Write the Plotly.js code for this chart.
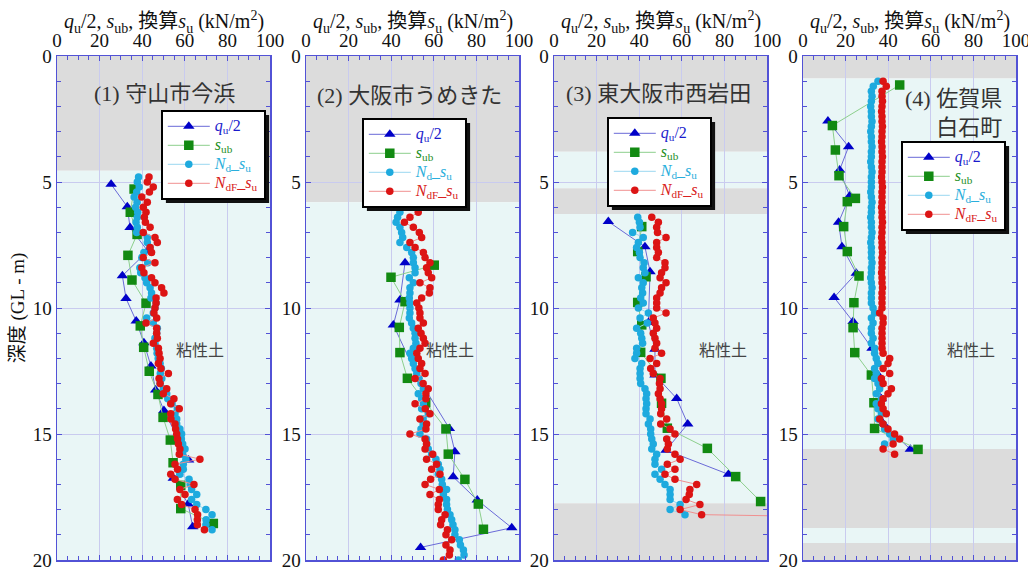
<!DOCTYPE html>
<html><head><meta charset="utf-8">
<script src="https://cdn.plot.ly/plotly-3.0.1.min.js"></script>
<style>html,body{margin:0;padding:0;background:#fff;}#chart{width:1028px;height:568px;}</style>
</head><body><div id="chart"></div>
<script>
// ---------- data (depth in m, strength in kN/m2) ----------
const panelTitles = ['(1) 守山市今浜', '(2) 大阪市うめきた', '(3) 東大阪市西岩田', '(4) 佐賀県<br>白石町'];
const soilLabel = '粘性土';
const xTitle = '<i>q</i><sub>u</sub>/2, <i>s</i><sub>ub</sub>, 換算<i>s</i><sub>u</sub> (kN/m<sup>2</sup>)';
const yTitle = '深度 (GL - m)';
const seriesNames = ['<i>q</i><sub>u</sub>/2', '<i>s</i><sub>ub</sub>', '<i>N</i><sub>d</sub>_<i>s</i><sub>u</sub>', '<i>N</i><sub>dF</sub>_<i>s</i><sub>u</sub>'];

// Panel 1 守山市今浜
const p1_bands = [[0, 4.55, 'gray'], [4.55, 20, 'clay']];
const p1_qu_depth = [5.09, 5.98, 6.81, 7.74, 8.72, 9.62, 10.52, 11.38, 12.3, 13.25, 14.07, 16.03, 16.76, 17.78, 18.68];
const p1_qu = [25.4, 33.0, 34.3, 42.6, 30.7, 32.4, 37.2, 40.8, 44.1, 46.3, 50.2, 61.8, 54.6, 61.6, 63.7];
const p1_sub_depth = [5.28, 6.2, 7.08, 7.91, 8.89, 9.81, 10.71, 11.56, 12.51, 13.43, 14.34, 15.24, 16.14, 17.04, 17.96, 18.55];
const p1_sub = [36.2, 34.4, 37.6, 33.3, 35.2, 41.8, 39.1, 40.7, 43.3, 47.4, 49.8, 53.2, 54.5, 58.1, 58.1, 73.4];
const p1_depth = [4.8,5.0,5.2,5.4,5.6,5.8,6.0,6.2,6.4,6.6,6.8,7.0,7.2,7.4,7.6,7.8,8.0,8.2,8.4,8.6,8.8,9.0,9.2,9.4,9.6,9.8,10.0,10.2,10.4,10.6,10.8,11.0,11.2,11.4,11.6,11.8,12.0,12.2,12.4,12.6,12.8,13.0,13.2,13.4,13.6,13.8,14.0,14.2,14.4,14.6,14.8,15.0,15.2,15.4,15.6,15.8,16.0,16.2,16.4,16.6,16.8,17.0,17.2,17.4,17.6,17.8,18.0,18.2,18.4,18.6,18.8];
const p1_nd = [38.3,37.7,38.6,37.4,36.2,37.6,36.9,37.9,37.7,37.1,37.7,37.4,42.4,42.4,43.7,40.8,39.8,42.6,38.9,39.3,41.3,42.1,43.7,44.4,44.1,46.5,46.0,45.2,42.1,45.2,47.1,46.8,46.0,46.0,46.8,47.0,47.5,48.4,49.0,48.5,49.2,48.4,50.0,51.5,52.0,54.0,56.5,55.4,56.2,56.2,57.7,58.5,58.4,59.0,60.1,59.0,60.5,59.3,59.3,57.7,62.0,62.5,63.2,65.6,63.2,65.6,69.9,72.8,70.0,69.9,72.8];
const p1_ndf = [43.2,42.4,45.2,43.4,39.8,42.4,40.5,41.8,41.0,41.5,43.7,40.5,46.0,47.1,43.7,44.4,40.5,46.0,39.8,40.8,44.4,46.0,49.1,50.2,46.5,46.5,46.0,45.5,46.8,41.8,46.8,46.8,47.1,45.2,47.6,47.9,48.4,47.6,48.8,52.3,47.9,48.4,51.5,49.9,54.9,53.4,57.4,53.4,53.5,55.4,55.7,56.2,56.6,57.0,57.7,57.4,67.1,55.4,56.6,53.4,55.4,64.3,57.7,60.1,56.5,58.5,64.8,66.0,65.9,65.9,69.2];

// Panel 2 大阪市うめきた
const p2_bands = [[0, 5.8, 'gray'], [5.8, 20, 'clay']];
const p2_qu_depth = [8.2, 9.68, 10.67, 12.7, 14.78, 15.7, 16.7, 17.62, 18.72, 19.5];
const p2_qu = [46.5, 44.1, 41.0, 52.2, 67.3, 69.9, 69.1, 80.4, 96.6, 53.8];
const p2_sub_depth = [8.3, 8.78, 9.75, 10.77, 11.77, 12.79, 13.76, 14.8, 15.8, 16.8, 17.78, 18.78];
const p2_sub = [60.2, 39.9, 46.5, 43.8, 44.1, 47.6, 56.2, 65.7, 66.8, 74.6, 80.9, 83.3];
const p2_depth = [6.0,6.2,6.4,6.6,6.8,7.0,7.2,7.4,7.6,7.8,8.0,8.2,8.4,8.6,8.8,9.0,9.2,9.4,9.6,9.8,10.0,10.2,10.4,10.6,10.8,11.0,11.2,11.4,11.6,11.8,12.0,12.2,12.4,12.6,12.8,13.0,13.2,13.4,13.6,13.8,14.0,14.2,14.4,14.6,14.8,15.0,15.2,15.4,15.6,15.8,16.0,16.2,16.4,16.6,16.8,17.0,17.2,17.4,17.6,17.8,18.0,18.2,18.4,18.6,18.8,19.0,19.2,19.4,19.6,19.8,20.0];
const p2_nd = [44.9,44.1,43.0,42.3,44.1,44.9,45.4,44.1,47.3,49.6,50.4,50.4,51.2,51.2,48.5,50.4,48.8,48.8,48.5,48.8,48.8,48.8,48.5,49.6,50.4,51.2,51.2,51.6,50.4,48.8,49.6,50.4,51.2,52.0,53.0,54.0,55.1,52.7,54.3,55.1,54.3,57.4,55.0,55.0,54.0,53.5,56.6,56.6,57.4,59.0,61.0,62.1,62.9,62.1,63.7,64.0,66.0,64.5,66.0,66.0,66.4,67.6,68.4,69.0,69.9,69.9,72.0,72.5,73.9,74.2,71.5];
const p2_ndf = [46.2,52.7,48.8,46.2,50.4,53.2,54.3,48.8,51.2,55.1,55.9,58.2,56.6,57.4,59.0,53.5,58.2,57.9,54.3,52.0,53.0,53.5,53.5,55.1,52.7,54.0,55.1,55.9,53.5,52.0,52.7,54.3,53.5,55.9,51.2,55.0,57.4,56.3,56.3,51.2,56.0,58.2,53.5,56.6,56.3,48.8,55.9,56.6,55.9,59.5,56.6,61.3,59.0,62.9,58.5,55.9,62.6,58.2,62.6,62.1,62.1,65.3,63.7,63.2,66.4,65.7,68.4,65.7,67.6,67.3,64.5];

// Panel 3 東大阪市西岩田
const p3_bands = [[0, 3.8, 'gray'], [3.8, 5.25, 'clay'], [5.25, 6.27, 'gray'], [6.27, 17.75, 'clay'], [17.75, 20, 'gray']];
const p3_qu_depth = [6.57, 7.57, 8.56, 10.58, 11.64, 12.66, 13.59, 14.6, 15.64, 16.6];
const p3_qu = [25.5, 42.7, 45.1, 44.3, 47.4, 47.4, 57.6, 62.8, 52.6, 81.9];
const p3_sub_depth = [6.77, 7.76, 8.76, 9.78, 10.67, 11.76, 12.79, 13.78, 14.77, 15.57, 16.69, 17.68];
const p3_sub = [41.2, 39.3, 43.2, 39.3, 41.2, 40.7, 50.2, 50.5, 53.2, 72.0, 85.3, 97.0];
const p3_nd_depth = [6.4,6.6,6.8,7.0,7.2,7.4,7.6,7.8,8.0,8.2,8.4,8.6,8.8,9.0,9.2,9.4,9.6,9.8,10.0,10.2,10.4,10.6,10.8,11.0,11.2,11.4,11.6,11.8,12.0,12.2,12.4,12.6,12.8,13.0,13.2,13.4,13.6,13.8,14.0,14.2,14.4,14.6,14.8,15.0,15.2,15.4,15.6,15.8,16.0,16.2,16.4,16.6,16.8,17.0,17.2,17.4,17.6,17.8,18.0,18.2];
const p3_nd = [39.3,40.1,40.4,36.9,41.9,39.6,38.8,40.1,40.4,42.3,41.9,42.7,39.6,41.9,41.2,41.6,40.7,41.9,39.6,44.3,40.4,43.8,38.8,40.7,41.2,41.6,38.8,38.8,38.0,41.2,40.4,40.4,40.4,40.7,42.7,43.5,43.2,43.5,43.2,43.2,45.1,44.3,45.4,45.4,45.9,46.6,45.9,48.2,47.4,47.4,50.5,47.4,49.8,52.1,54.5,54.5,54.5,59.2,54.5,61.5];
const p3_ndf_depth = [6.4,6.6,6.8,7.0,7.2,7.4,7.6,7.8,8.0,8.2,8.4,8.6,8.8,9.0,9.2,9.4,9.6,9.8,10.0,10.2,10.4,10.6,10.8,11.0,11.2,11.4,11.6,11.8,12.0,12.2,12.4,12.6,12.8,13.0,13.2,13.4,13.6,13.8,14.0,14.2,14.4,14.6,14.8,15.0,15.2,15.4,15.6,15.8,16.0,16.2,16.4,16.6,16.8,17.0,17.2,17.4,17.6,17.8,18.0,18.2,18.3];
const p3_ndf = [45.9,49.0,48.2,48.6,52.6,48.2,48.2,49.0,48.2,52.1,52.1,50.5,49.8,52.6,50.5,49.8,48.2,48.2,48.2,52.6,46.6,47.4,48.2,46.6,47.4,48.2,47.4,50.5,45.1,48.2,45.4,46.6,49.8,49.5,49.8,49.0,49.8,50.5,50.5,50.1,52.9,50.1,54.5,56.8,52.9,53.7,53.2,56.8,59.2,53.2,56.8,52.1,56.8,67.0,63.8,63.5,62.0,68.5,59.2,69.3,140.0];

// Panel 4 佐賀県白石町
const p4_bands = [[0, 0.89, 'gray'], [0.89, 15.6, 'clay'], [15.6, 18.73, 'gray'], [18.73, 19.33, 'clay'], [19.33, 20, 'gray']];
const p4_qu_depth = [2.58, 3.6, 4.52, 5.56, 6.6, 7.57, 8.62, 9.58, 10.54, 11.6, 12.6, 13.6, 14.58, 15.61];
const p4_qu = [11.7, 21.4, 17.2, 21.9, 16.7, 18.3, 25.0, 14.6, 23.5, 32.4, 34.7, 36.8, 37.6, 50.4];
const p4_sub_depth = [1.15, 2.76, 3.73, 4.75, 5.65, 5.78, 6.77, 7.76, 8.73, 9.79, 10.78, 11.77, 12.66, 13.76, 14.78, 15.61];
const p4_sub = [45.4, 13.8, 15.2, 16.9, 24.6, 20.8, 19.1, 20.8, 26.3, 23.9, 23.5, 24.3, 32.1, 33.3, 33.6, 54.0];
const p4_nd_depth = [1.0,1.2,1.4,1.6,1.8,2.0,2.2,2.4,2.6,2.8,3.0,3.2,3.4,3.6,3.8,4.0,4.2,4.4,4.6,4.8,5.0,5.2,5.4,5.6,5.8,6.0,6.2,6.4,6.6,6.8,7.0,7.2,7.4,7.6,7.8,8.0,8.2,8.4,8.6,8.8,9.0,9.2,9.4,9.6,9.8,10.0,10.2,10.4,10.6,10.8,11.0,11.2,11.4,11.6,11.8,12.0,12.2,12.4,12.6,12.8,13.0,13.2,13.4,13.6,13.8,14.0,14.2,14.4,14.6,14.8,15.0,15.2,15.4];
const p4_nd = [35.2,33.0,32.1,32.4,32.1,31.8,32.1,32.1,32.4,32.1,31.8,32.1,32.1,32.4,32.1,32.1,31.8,32.1,32.4,32.1,32.1,32.1,31.8,32.1,32.4,32.1,32.1,31.8,32.1,32.1,32.4,32.1,31.8,32.1,32.1,32.1,32.4,32.1,32.1,31.8,32.1,32.4,32.1,32.1,32.1,32.9,33.6,32.1,32.9,32.1,32.1,32.9,32.1,33.6,33.6,34.4,35.2,33.6,34.4,33.6,35.2,36.0,34.4,36.8,34.4,35.2,36.8,35.2,37.6,38.3,40.7,42.3,38.3];
const p4_ndf_depth = [1.0,1.2,1.4,1.6,1.8,2.0,2.2,2.4,2.6,2.8,3.0,3.2,3.4,3.6,3.8,4.0,4.2,4.4,4.6,4.8,5.0,5.2,5.4,5.6,5.8,6.0,6.2,6.4,6.6,6.8,7.0,7.2,7.4,7.6,7.8,8.0,8.2,8.4,8.6,8.8,9.0,9.2,9.4,9.6,9.8,10.0,10.2,10.4,10.6,10.8,11.0,11.2,11.4,11.6,11.8,12.0,12.2,12.4,12.6,12.8,13.0,13.2,13.4,13.6,13.8,14.0,14.2,14.4,14.6,14.8,15.0,15.2,15.4,15.6,15.8];
const p4_ndf = [37.6,39.1,37.1,37.1,37.3,37.1,36.9,37.1,37.1,37.3,37.1,37.1,36.9,37.1,37.1,37.3,37.1,37.1,37.1,36.9,37.1,37.3,37.1,37.1,37.1,36.9,37.1,37.1,37.3,37.1,37.1,36.9,37.1,37.1,37.3,37.1,37.1,37.1,36.9,37.1,37.1,37.3,37.1,37.1,37.1,37.1,36.0,37.6,37.6,37.1,37.1,37.1,37.1,37.1,37.6,40.7,39.9,37.6,40.7,36.8,37.6,41.5,39.9,37.6,36.8,37.6,39.1,36.0,37.6,39.9,43.0,45.4,42.3,37.6,43.0];

// ---------- figure ----------
const W = 1028, H = 568;
const FONT = 'Liberation Serif, "Noto Sans CJK JP", serif';
const AX = '#5252d6', GRID = '#c9cbef';
const bandColor = {gray: '#dcdcdc', clay: '#e9f6f6'};
const panelLeft = [57, 306, 554, 803], panelW = 213, plotTop = 56, plotBot = 560;
const legendPos = [[161, 110], [362, 118], [607, 117], [901, 141]];
const legendIds = ['legend', 'legend2', 'legend3', 'legend4'];

const panels = [
  {bands: p1_bands, qd: p1_qu_depth, q: p1_qu, sd: p1_sub_depth, s: p1_sub, nd: p1_depth, n: p1_nd, fd: p1_depth, f: p1_ndf},
  {bands: p2_bands, qd: p2_qu_depth, q: p2_qu, sd: p2_sub_depth, s: p2_sub, nd: p2_depth, n: p2_nd, fd: p2_depth, f: p2_ndf},
  {bands: p3_bands, qd: p3_qu_depth, q: p3_qu, sd: p3_sub_depth, s: p3_sub, nd: p3_nd_depth, n: p3_nd, fd: p3_ndf_depth, f: p3_ndf},
  {bands: p4_bands, qd: p4_qu_depth, q: p4_qu, sd: p4_sub_depth, s: p4_sub, nd: p4_nd_depth, n: p4_nd, fd: p4_ndf_depth, f: p4_ndf}
];

const styles = [
  {sym: 'triangle-up', size: 10, col: '#0000c8', line: '#6a6ad8', txt: '#1a1acc'},
  {sym: 'square', size: 9.5, col: '#128a12', line: '#8ccf8c', txt: '#1f8f1f'},
  {sym: 'circle', size: 7.5, col: '#1eaade', line: '#9ad8f0', txt: '#2aaedc'},
  {sym: 'circle', size: 7.5, col: '#dc1414', line: '#f09090', txt: '#d82020'}
];

const traces = [], shapes = [], annotations = [];
const layout = {
  width: W, height: H, margin: {l: 0, r: 0, t: 0, b: 0},
  paper_bgcolor: '#fff', plot_bgcolor: 'rgba(0,0,0,0)',
  font: {family: FONT, color: '#111'}, showlegend: true
};
const yd = [1 - plotBot / H, 1 - plotTop / H];
const labelX = [50.7, 48.8, 49.0, 94.4], labelY = [1.47, 1.55, 1.47, 2.26];
const soilX = [66.9, 67.4, 79.3, 78.9];

panels.forEach((p, i) => {
  const n = i + 1, xs = 'x' + (n === 1 ? '' : n), ys = 'y' + (n === 1 ? '' : n);
  const xk = 'xaxis' + (n === 1 ? '' : n), yk = 'yaxis' + (n === 1 ? '' : n);
  const lg = legendIds[i];
  layout[xk] = {
    domain: [panelLeft[i] / W, (panelLeft[i] + panelW) / W], range: [0, 100], side: 'top', anchor: ys,
    tick0: 0, dtick: 20, showgrid: true, gridcolor: GRID, gridwidth: 1, zeroline: false,
    showline: true, linecolor: AX, linewidth: 1.5, mirror: 'ticks', ticks: 'inside', ticklen: 5, tickcolor: AX,
    minor: {dtick: 5, ticks: 'inside', ticklen: 4, tickcolor: AX, showgrid: false},
    tickfont: {family: FONT, size: 19, color: '#111'}, ticklabeloverflow: 'allow'
  };
  layout[yk] = {
    domain: yd, range: [20, 0], anchor: xs, tick0: 0, dtick: 5,
    showgrid: true, gridcolor: GRID, gridwidth: 1, zeroline: false,
    showline: true, linecolor: AX, linewidth: 1.5, mirror: 'ticks', ticks: 'inside', ticklen: 5, tickcolor: AX,
    minor: {dtick: 1, ticks: 'inside', ticklen: 4, tickcolor: AX, showgrid: false},
    tickfont: {family: FONT, size: 19, color: '#111'}, ticklabeloverflow: 'allow'
  };
  if (n === 1) layout[yk].title = {text: yTitle, font: {family: FONT, size: 19, color: '#111'}, standoff: 3};
  layout[lg] = {
    x: legendPos[i][0] / W, y: 1 - legendPos[i][1] / H, xanchor: 'left', yanchor: 'top',
    bgcolor: '#fff', bordercolor: '#000', borderwidth: 1.8,
    font: {family: FONT, size: 12}, tracegroupgap: 0, itemwidth: 42
  };
  p.bands.forEach(b => shapes.push({
    type: 'rect', xref: xs + ' domain', yref: ys, x0: 0, x1: 1, y0: b[0], y1: b[1],
    fillcolor: bandColor[b[2]], line: {width: 0}, layer: 'below'
  }));
  const sets = [[p.q, p.qd], [p.s, p.sd], [p.n, p.nd], [p.f, p.fd]];
  sets.forEach((d, k) => {
    const st = styles[k];
    traces.push({
      type: 'scatter', mode: 'lines+markers', x: d[0], y: d[1], xaxis: xs, yaxis: ys, legend: lg,
      name: '<span style="color:' + st.txt + ';font-size:16px">' + seriesNames[k] + '</span>',
      line: {color: st.line, width: 1}, marker: {symbol: st.sym, size: st.size, color: st.col},
      cliponaxis: true, hoverinfo: 'skip'
    });
  });
  annotations.push({
    xref: 'paper', yref: 'paper', x: (panelLeft[i] + panelW / 2) / W, y: 1 - 22 / H,
    xanchor: 'center', yanchor: 'middle', text: xTitle, showarrow: false,
    font: {family: FONT, size: 20, color: '#111'}
  });
  annotations.push({
    xref: xs, yref: ys, x: labelX[i], y: labelY[i], text: panelTitles[i], showarrow: false,
    xanchor: i === 3 ? 'right' : 'center', align: i === 3 ? 'right' : 'center', yanchor: 'middle',
    font: {family: FONT, size: 22, color: '#333'}
  });
  annotations.push({
    xref: xs, yref: ys, x: soilX[i], y: 11.67, text: soilLabel, showarrow: false,
    font: {family: FONT, size: 16, color: '#444'}
  });
});
layout.shapes = shapes;
layout.annotations = annotations;

Plotly.newPlot('chart', traces, layout, {staticPlot: true, displayModeBar: false}).then(gd => {
  // drop shadow behind each legend box, sized from the rendered legend
  const root = gd.getBoundingClientRect();
  const extra = [];
  legendIds.forEach(id => {
    const bg = gd.querySelector('g.' + id + ' rect.bg');
    if (!bg) return;
    const r = bg.getBoundingClientRect();
    const x0 = r.left - root.left + 4, x1 = r.right - root.left + 4;
    const y0 = r.top - root.top + 4, y1 = r.bottom - root.top + 4;
    extra.push({
      type: 'rect', xref: 'paper', yref: 'paper', x0: x0 / W, x1: x1 / W, y0: 1 - y1 / H, y1: 1 - y0 / H,
      fillcolor: '#111', line: {width: 0}, layer: 'above'
    });
  });
  return Plotly.relayout(gd, {shapes: shapes.concat(extra)});
});
</script></body></html>
